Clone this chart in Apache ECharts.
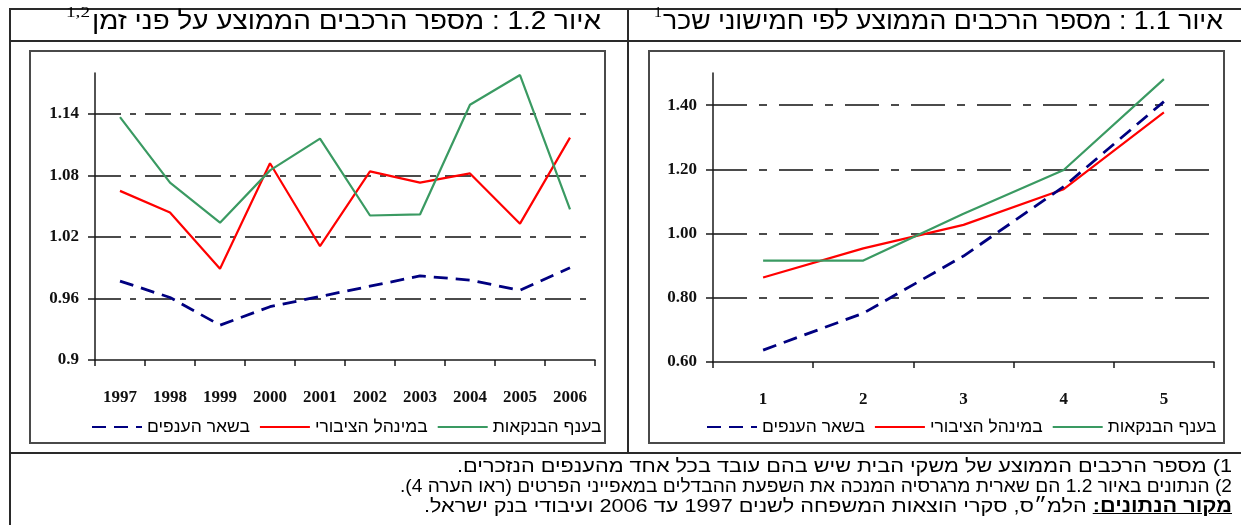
<!DOCTYPE html>
<html><head><meta charset="utf-8">
<script src="https://cdn.jsdelivr.net/npm/echarts@6/dist/echarts.min.js"></script>
<style>
body{margin:0;background:#fff;}
#wrap{position:relative;width:1241px;height:525px;overflow:hidden;background:#fff;}
#chart{position:absolute;left:0;top:0;width:1241px;height:525px;}
.ln{position:absolute;background:#2a2a2a;}
.box{position:absolute;border:2px solid #4a4a4a;box-sizing:border-box;}
.t{position:absolute;white-space:nowrap;direction:rtl;color:#000;transform-origin:0 50%;line-height:1;}
.ttl{font-family:"Liberation Sans",Arial,sans-serif;font-size:25px;}
.sup{font-family:"Liberation Serif",serif;font-size:15px;direction:ltr;}
.fn{font-family:"Liberation Sans Narrow","Liberation Sans",sans-serif;font-size:19px;}
.fn u{font-weight:bold;}
</style></head>
<body>
<div id="wrap">
  <div class="ln" style="left:9px;top:8px;width:1232px;height:2px"></div>
  <div class="ln" style="left:9px;top:8px;width:2px;height:517px"></div>
  <div class="ln" style="left:9px;top:40px;width:1232px;height:2px"></div>
  <div class="ln" style="left:627px;top:8px;width:2px;height:446px"></div>
  <div class="ln" style="left:9px;top:452px;width:1232px;height:2px"></div>
  <div class="box" style="left:29px;top:50px;width:577px;height:394px"></div>
  <div class="box" style="left:648px;top:50px;width:577px;height:394px"></div>
  <div id="chart"></div>
  <div class="t ttl" id="t1" data-left="92" data-w="509" style="top:8px">איור 1.2 : מספר הרכבים הממוצע על פני זמן</div>
  <div class="t sup" id="s1" data-left="66" data-w="24" style="top:5px">1,2</div>
  <div class="t ttl" id="t2" data-left="663" data-w="560" style="top:8px">איור 1.1 : מספר הרכבים הממוצע לפי חמישוני שכר</div>
  <div class="t sup" id="s2" data-left="654" data-w="8" style="top:5px">1</div>
  <div class="t fn" id="f1" data-left="457" data-w="775" style="top:456px">1) מספר הרכבים הממוצע של משקי הבית שיש בהם עובד בכל אחד מהענפים הנזכרים.</div>
  <div class="t fn" id="f2" data-left="400" data-w="832" style="top:476px">2) הנתונים באיור 1.2 הם שארית מרגרסיה המנכה את השפעת ההבדלים במאפייני הפרטים (ראו הערה 4).</div>
  <div class="t fn" id="f3" data-left="424" data-w="808" style="top:496px"><u>מקור הנתונים:</u> הלמ״ס, סקרי הוצאות המשפחה לשנים 1997 עד 2006 ועיבודי בנק ישראל.</div>
</div>
<script>
// ---- data ----
const years = ['1997','1998','1999','2000','2001','2002','2003','2004','2005','2006'];
const quintiles = ['1','2','3','4','5'];
const seriesNames = ['בשאר הענפים','במינהל הציבורי','בענף הבנקאות'];

// figure 1.2 : over time
const timeOther   = [0.977,0.961,0.934,0.952,0.962,0.972,0.982,0.978,0.968,0.990];
const timePublic  = [1.065,1.044,0.989,1.092,1.011,1.084,1.073,1.082,1.033,1.117];
const timeBanking = [1.137,1.073,1.034,1.085,1.116,1.041,1.042,1.149,1.178,1.047];

// figure 1.1 : by wage quintile
const wageOther   = [0.637,0.752,0.930,1.146,1.411];
const wagePublic  = [0.863,0.954,1.027,1.138,1.377];
const wageBanking = [0.916,0.916,1.062,1.198,1.481];

// axis ticks
const timeTicks = [0.9,0.96,1.02,1.08,1.14];
const wageTicks = [0.60,0.80,1.00,1.20,1.40];

// ---- styles ----
const colors = ['#000080','#ff0000','#3a9a62'];
const axisLine = {color:'#1a1a1a', width:1.5};
const lab = {fontFamily:'Liberation Serif', fontSize:17, fontWeight:'bold', color:'#111'};

function xAx(gi, data){
  return {gridIndex:gi, type:'category', data:data, boundaryGap:true,
    axisLine:{lineStyle:axisLine}, axisTick:{show:true,length:6,lineStyle:axisLine},
    axisLabel:Object.assign({margin:29}, lab), splitLine:{show:false}};
}
function yAx(gi, min, max, step, ticks, fmt, dash){
  return {gridIndex:gi, type:'value', min:min, max:max, interval:step,
    axisLine:{show:true,lineStyle:axisLine},
    axisTick:{show:true,length:7,lineStyle:axisLine,customValues:ticks},
    axisLabel:Object.assign({margin:16, customValues:ticks, formatter:fmt}, lab),
    splitLine:{show:true, showMinLine:false, lineStyle:{color:'#111',width:1.5,type:dash}}};
}
function ser(name, x, data, ci){
  const navy = ci===0;
  return {name:name, type:'line', xAxisIndex:x, yAxisIndex:x, data:data, symbol:'none', showSymbol:false,
    lineStyle:{color:colors[ci], width: navy?2.8:2.2, type: navy?[14,8]:'solid'}, itemStyle:{color:colors[ci]},
    z: navy?3:2, silent:true};
}
function leg(left){
  return {left:left, top:413, orient:'horizontal', itemWidth:50, itemHeight:20, itemGap:9,
    selectedMode:false, data:seriesNames, itemStyle:{opacity:0},
    textStyle:{fontFamily:'Liberation Sans', fontSize:17.5, color:'#000', padding:[0,0,0,0]}};
}

const chart = echarts.init(document.getElementById('chart'), null, {renderer:'canvas'});
chart.setOption({
  animation:false,
  backgroundColor:'transparent',
  grid:[{left:95, top:73, width:500, height:287}, {left:713, top:73, width:501, height:289}],
  xAxis:[xAx(0, years), xAx(1, quintiles)],
  yAxis:[
    yAx(0, 0.9, 1.18, 0.06, timeTicks, v => String(+(+v).toFixed(2)), [26,9,6,9]),
    yAx(1, 0.6, 1.5, 0.2, wageTicks, v => (+v).toFixed(2), [34,12,8,12])
  ],
  legend:[leg(86), leg(701)],
  series:[
    ser(seriesNames[0],0,timeOther,0), ser(seriesNames[1],0,timePublic,1), ser(seriesNames[2],0,timeBanking,2),
    ser(seriesNames[0],1,wageOther,0), ser(seriesNames[1],1,wagePublic,1), ser(seriesNames[2],1,wageBanking,2)
  ]
});

function fitAll(){
  document.querySelectorAll('.t').forEach(el=>{
    el.style.left = el.dataset.left+'px';
    el.style.transform='none';
    const w = el.getBoundingClientRect().width;
    if (w>0) el.style.transform = 'scaleX('+(+el.dataset.w/w)+')';
  });
}
fitAll();
if (document.fonts && document.fonts.ready) document.fonts.ready.then(fitAll);
</script>
</body></html>
